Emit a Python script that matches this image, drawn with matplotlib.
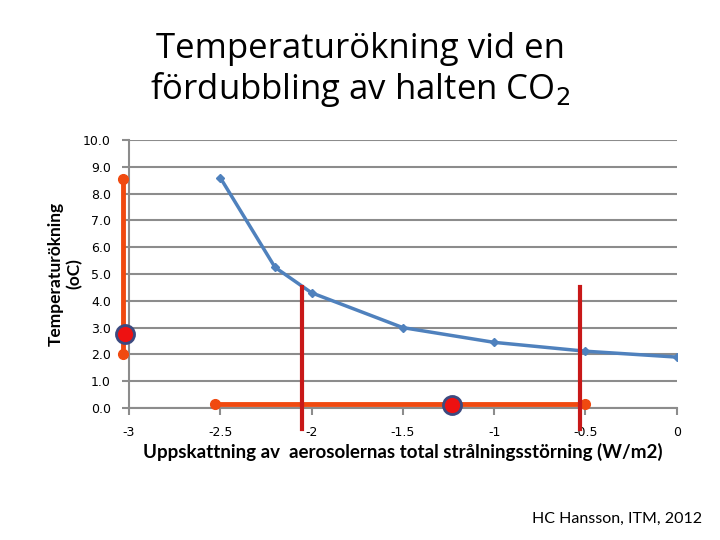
import matplotlib.pyplot as plt
import numpy as np

# data
forcing = [-2.5, -2.2, -2.0, -1.5, -1.0, -0.5, 0.0]
temp_rise = [8.6, 5.25, 4.3, 3.0, 2.45, 2.12, 1.9]

# range of climate sensitivity (vertical, at the y axis)
sens_x = [-3.03, -3.03]
sens_y = [2.0, 8.55]
sens_best = (-3.02, 2.75)

# range of aerosol forcing (horizontal, at the bottom)
aer_x = [-2.53, -0.5]
aer_y = [0.15, 0.15]
aer_best = (-1.23, 0.12)

# red markers projecting the aerosol range to the curve
red_x = [-2.05, -0.53]
red_top = 4.5
red_bottom = -0.8

x_ticks = [-3, -2.5, -2, -1.5, -1, -0.5, 0]
x_ticklabels = ['-3', '-2.5', '-2', '-1.5', '-1', '-0.5', '0']
y_ticks = np.arange(0, 11, 1)

fig = plt.figure(figsize=(7.2, 5.4), dpi=100)
ax = fig.add_axes([0.179, 0.2444, 0.761, 0.4963])

ax.set_xlim(-3, 0)
ax.set_ylim(0, 10)

ax.grid(axis='y', color='#8c8c8c', linewidth=1.5)
ax.set_axisbelow(True)
for s in ['top', 'right']:
    ax.spines[s].set_visible(False)
for s in ['left', 'bottom']:
    ax.spines[s].set_color('#8c8c8c')
    ax.spines[s].set_linewidth(1.5)

ax.plot(forcing, temp_rise, color='#4f81bd', linewidth=2.5, marker='D',
        markersize=4, zorder=3)

# orange range lines
orange = '#f04a10'
ax.plot(sens_x, sens_y, color=orange, linewidth=3.5, marker='o',
        markersize=7, clip_on=False, zorder=4)
ax.plot(aer_x, aer_y, color=orange, linewidth=3.5, marker='o',
        markersize=7, clip_on=False, zorder=4)

# red verticals
for xv in red_x:
    ax.plot([xv, xv], [red_bottom, red_top], color='#c81818', linewidth=3,
            clip_on=False, zorder=5)

# best-estimate dots
for px, py in [sens_best, aer_best]:
    ax.plot(px, py, 'o', color='#ee1111', markersize=13,
            markeredgecolor='#3c4a80', markeredgewidth=2, clip_on=False,
            zorder=6)

ax.set_xticks(x_ticks)
ax.set_xticklabels(x_ticklabels)
ax.set_yticks(y_ticks)
ax.set_yticklabels([f'{v:.1f}' for v in y_ticks])
ax.tick_params(axis='both', colors='#8c8c8c', labelcolor='black',
               labelsize=9, width=1.5, length=5)
ax.tick_params(axis='y', pad=8)
ax.tick_params(axis='x', pad=8)

ax.set_xlabel('Uppskattning av  aerosolernas total strålningsstörning (W/m2)',
              fontsize=13.5, fontweight='bold', family='Lato', labelpad=3)
ax.set_ylabel('Temperaturökning\n(oC)', fontsize=12.5, fontweight='bold',
              family='Lato', labelpad=0)

fig.text(0.5, 0.87, 'Temperaturökning vid en\nfördubbling av halten CO$_2$',
         ha='center', va='center', fontsize=25, family='Open Sans',
         linespacing=1.15)
fig.text(0.975, 0.04, 'HC Hansson, ITM, 2012', ha='right', va='center',
         fontsize=11.5, family='Lato')

fig.savefig('out.png', dpi=100)
